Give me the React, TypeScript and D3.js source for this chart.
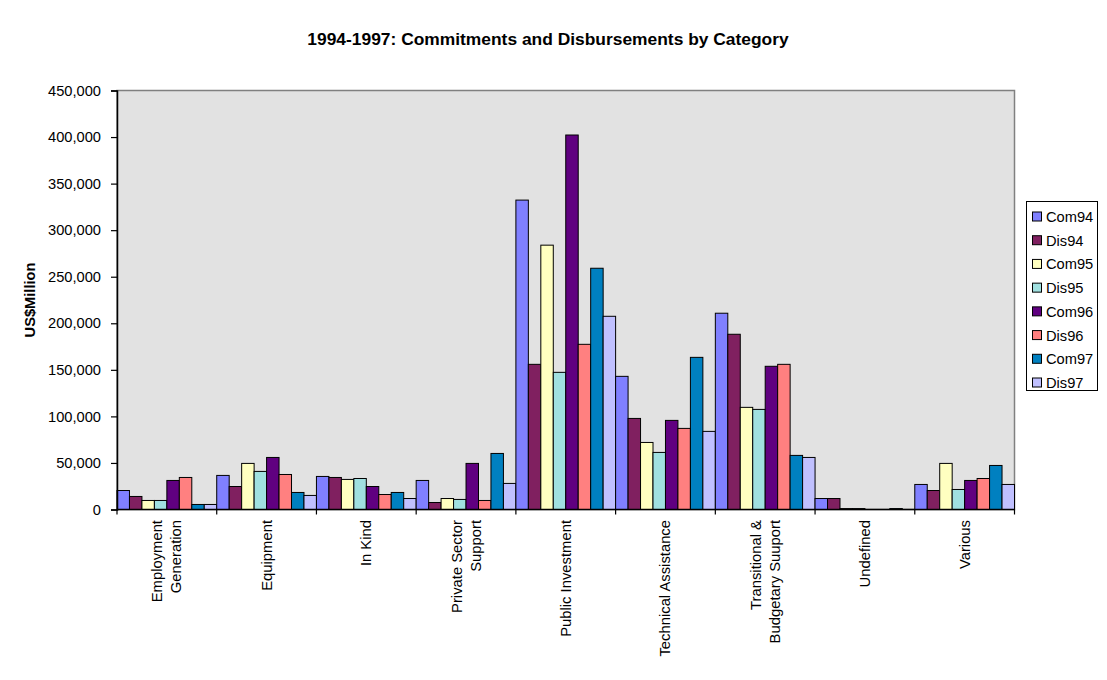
import React, { useRef, useEffect } from "react";
import * as d3 from "d3";

const categories = [
  "Employment\nGeneration",
  "Equipment",
  "In Kind",
  "Private Sector\nSupport",
  "Public Investment",
  "Technical Assistance",
  "Transitional &\nBudgetary Suuport",
  "Undefined",
  "Various",
];

const seriesNames = ["Com94", "Dis94", "Com95", "Dis95", "Com96", "Dis96", "Com97", "Dis97"];

const seriesColors = ["#8080FF", "#802060", "#FFFFC0", "#A0E0E0", "#600080", "#FF8080", "#0080C0", "#C0C0FF"];

// values, one array per series, in category order
const com94 = [20400, 36600, 35500, 31200, 332300, 143000, 210800, 11800, 26900];
const dis94 = [14000, 24700, 34400, 7500, 155900, 97800, 188200, 11800, 20400];
const com95 = [9700, 49500, 32300, 11800, 283900, 72000, 109700, 1000, 49500];
const dis95 = [9700, 40900, 33300, 10800, 147300, 61300, 107500, 1000, 21500];
const com96 = [31200, 55900, 24700, 49500, 402200, 95700, 153800, 0, 31200];
const dis96 = [34400, 37600, 16100, 9700, 177400, 87100, 155900, 0, 33300];
const com97 = [5400, 18300, 18300, 60200, 259100, 163400, 58100, 1000, 47300];
const dis97 = [5400, 15100, 11800, 28000, 207500, 83900, 55900, 0, 26900];

const seriesValues = [com94, dis94, com95, dis95, com96, dis96, com97, dis97];

const yTicks = [0, 50000, 100000, 150000, 200000, 250000, 300000, 350000, 400000, 450000];

const App = () => {
  const ref = useRef(null);

  useEffect(() => {
    const svg = d3.select(ref.current);
    svg.selectAll("*").remove();

    const left = 117;
    const right = 1014.5;
    const top = 90.5;
    const bottom = 509.5;
    const font = "Arial, 'Liberation Sans', sans-serif";

    const x0 = d3.scaleBand().domain(categories).range([left, right]).padding(0);
    const x1 = d3.scaleBand().domain(seriesNames).range([0, x0.bandwidth()]).padding(0);
    const y = d3.scaleLinear().domain([0, 450000]).range([bottom, top]);

    // plot area
    svg
      .append("rect")
      .attr("x", left)
      .attr("y", top)
      .attr("width", right - left)
      .attr("height", bottom - top)
      .attr("fill", "#E2E2E2")
      .attr("stroke", "#808080")
      .attr("stroke-width", 1.5);

    // bars
    const groups = svg
      .append("g")
      .selectAll("g")
      .data(categories)
      .enter()
      .append("g")
      .attr("transform", (d) => `translate(${x0(d)},0)`);

    groups
      .selectAll("rect")
      .data((d, i) => seriesNames.map((s, j) => ({ s, v: seriesValues[j][i], c: seriesColors[j] })))
      .enter()
      .filter((d: any) => d.v > 0)
      .append("rect")
      .attr("x", (d: any) => x1(d.s))
      .attr("y", (d: any) => y(d.v))
      .attr("width", x1.bandwidth())
      .attr("height", (d: any) => y(0) - y(d.v))
      .attr("fill", (d: any) => d.c)
      .attr("stroke", "#000")
      .attr("stroke-width", 1);

    // y axis
    const yAxis = svg
      .append("g")
      .attr("transform", `translate(${left},0)`)
      .call(
        d3
          .axisLeft(y)
          .tickValues(yTicks)
          .tickSize(6)
          .tickPadding(10)
          .tickFormat((d: any) => d3.format(",")(d))
      );
    yAxis.select(".domain").attr("stroke", "#000").attr("stroke-width", 1.5);
    yAxis.selectAll(".tick line").attr("stroke", "#000").attr("stroke-width", 1.2);
    yAxis
      .selectAll("text")
      .attr("font-family", font)
      .attr("font-size", 14.67)
      .attr("fill", "#000");

    // x axis line and ticks at category boundaries
    const xg = svg.append("g");
    xg.append("line")
      .attr("x1", left)
      .attr("x2", right)
      .attr("y1", bottom)
      .attr("y2", bottom)
      .attr("stroke", "#000")
      .attr("stroke-width", 1.5);
    const bounds = categories.map((c) => x0(c) as number).concat([right]);
    xg.selectAll(".xt")
      .data(bounds)
      .enter()
      .append("line")
      .attr("x1", (d) => d)
      .attr("x2", (d) => d)
      .attr("y1", bottom)
      .attr("y2", bottom + 5)
      .attr("stroke", "#000")
      .attr("stroke-width", 1.2);

    // category labels, rotated
    categories.forEach((c) => {
      const lines = c.split("\n");
      const cx = (x0(c) as number) + x0.bandwidth() / 2;
      const lh = 19;
      const t = svg
        .append("text")
        .attr("transform", `translate(${cx},520) rotate(-90)`)
        .attr("text-anchor", "end")
        .attr("font-family", font)
        .attr("font-size", 14.8)
        .attr("fill", "#000");
      lines.forEach((l, i) => {
        t.append("tspan")
          .attr("x", 0)
          .attr("y", (i - (lines.length - 1) / 2) * lh + 5)
          .text(l);
      });
    });

    // title
    svg
      .append("text")
      .attr("x", 548)
      .attr("y", 45)
      .attr("text-anchor", "middle")
      .attr("font-family", font)
      .attr("font-weight", "bold")
      .attr("font-size", 17.4)
      .text("1994-1997: Commitments and Disbursements by Category");

    // y label
    svg
      .append("text")
      .attr("transform", `translate(35,${(top + bottom) / 2}) rotate(-90)`)
      .attr("text-anchor", "middle")
      .attr("font-family", font)
      .attr("font-weight", "bold")
      .attr("font-size", 14.67)
      .text("US$Million");

    // legend
    const lg = svg.append("g");
    lg.append("rect")
      .attr("x", 1026.5)
      .attr("y", 201.5)
      .attr("width", 71)
      .attr("height", 189)
      .attr("fill", "#fff")
      .attr("stroke", "#000")
      .attr("stroke-width", 1);
    const ly = d3.scalePoint().domain(seriesNames).range([216.5, 382.5]);
    seriesNames.forEach((s, i) => {
      const cy = ly(s) as number;
      lg.append("rect")
        .attr("x", 1032.5)
        .attr("y", cy - 4.5)
        .attr("width", 9)
        .attr("height", 9)
        .attr("fill", seriesColors[i])
        .attr("stroke", "#000")
        .attr("stroke-width", 1);
      lg.append("text")
        .attr("x", 1046)
        .attr("y", cy + 5.5)
        .attr("font-family", font)
        .attr("font-size", 14.67)
        .text(s);
    });
  }, []);

  return (
    <svg
      ref={ref}
      width={1107}
      height={680}
      style={{ position: "absolute", left: 0, top: 0, background: "#fff" }}
    ></svg>
  );
};

export default App;
